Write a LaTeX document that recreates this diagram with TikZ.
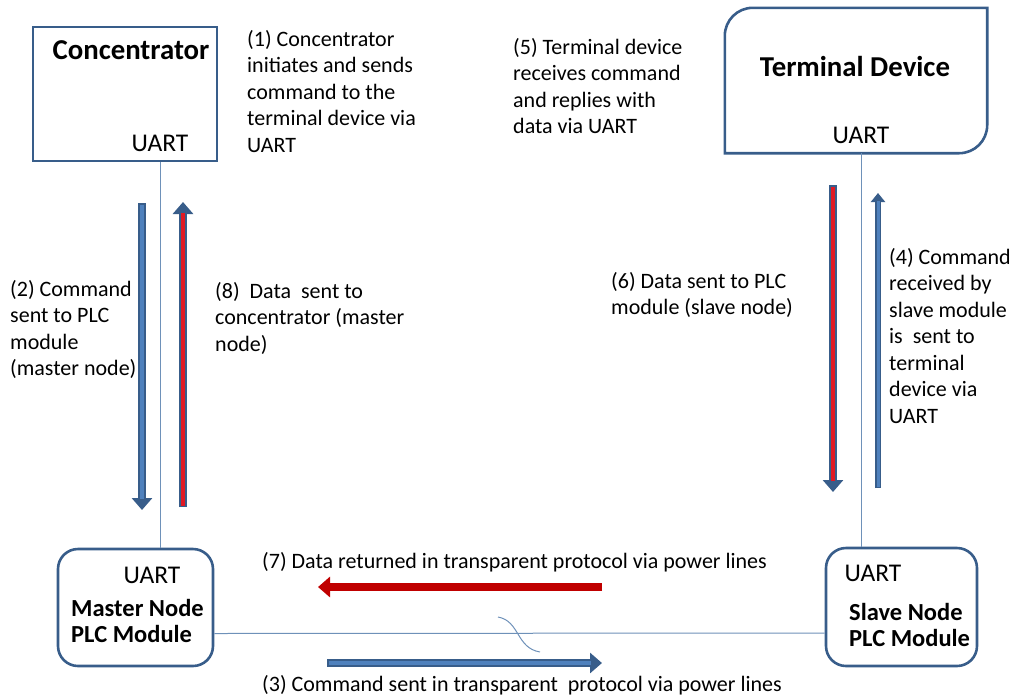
\documentclass[tikz,border=0pt]{standalone}
\usepackage{fontspec}
\setmainfont{Carlito}
\usetikzlibrary{arrows.meta}
\definecolor{edgeblue}{RGB}{56,93,138}
\definecolor{fillblue}{RGB}{79,129,189}
\definecolor{wireblue}{RGB}{110,145,185}
\definecolor{darkred}{RGB}{192,0,0}
\definecolor{brightred}{RGB}{225,25,35}
\tikzset{
	box/.style={draw=edgeblue, line width=2.6pt},
	title/.style={font=\fontsize{28.8}{30}\selectfont\bfseries},
	uart/.style={font=\fontsize{25.5}{28}\selectfont},
	plc/.style={font=\fontsize{24.5}{26.5}\selectfont\bfseries, align=left, anchor=west, inner sep=0pt},
	note/.style={font=\fontsize{22}{26.5}\selectfont, align=left, anchor=north west, inner sep=0pt},
	wire/.style={draw=wireblue, line width=1pt},
	flow/.style 2 args={draw=#1, line width=8pt, -{Triangle[width=20pt,length=12pt]},
		postaction={draw=#2, line width=4pt, -, shorten >=11pt, shorten <=1.5pt}},
	thinflow/.style={draw=edgeblue, line width=6pt, -{Triangle[width=14pt,length=9pt]},
		postaction={draw=fillblue, line width=3pt, -, shorten >=8pt, shorten <=1.5pt}},
}
\begin{document}
\begin{tikzpicture}[x=1pt, y=-1pt]
	\useasboundingbox (0,0) rectangle (1015,697);
	% boxes
	\node[box, minimum width=184pt, minimum height=134pt] (Conc)at(125, 94) {};
	\node[title] (ConcT)at(131, 50) {Concentrator};
	\node[uart] (ConcU)at(160, 143) {UART};
	\node[minimum width=262pt, minimum height=145pt, inner sep=0pt] (Term)at(856, 80.5) {};
	\draw[box] (Term.west) [rounded corners=28pt] -- (Term.north west) [sharp corners] -- (Term.north east) [rounded corners=28pt] -- (Term.south east) [sharp corners] -- (Term.south west) -- cycle;
	\node[title] (TermT)at(855, 66) {Terminal Device};
	\node[uart] (TermU)at(861, 135) {UART};
	\node[box, rounded corners=20pt, minimum width=155pt, minimum height=117pt] (Master)at(135.5, 607.5) {};
	\node[uart] (MasterU)at(152, 575) {UART};
	\node[plc] (MasterT)at(71, 621) {Master Node\\PLC Module};
	\node[box, rounded corners=20pt, minimum width=151pt, minimum height=118pt] (Slave)at(901.5, 607) {};
	\node[uart] (SlaveU)at(873, 573) {UART};
	\node[plc] (SlaveT)at(849, 625) {Slave Node\\PLC Module};
	% wires
	\draw[wire] (Conc.south -| ConcU) -- (Master.north -| ConcU);
	\draw[wire] (Term.south -| TermU) -- (Slave.north -| TermU);
	\draw[wire] ([yshift=-26pt]Master.east) -- ([yshift=-26pt]Slave.west);
	\draw[wire] (498, 617) .. controls (520, 621) and (516, 648) .. (540, 652);
	% arrows
	\coordinate (s2)at(142, 203); \coordinate (e2)at(142, 510);
	\coordinate (s8)at(183, 507); \coordinate (e8)at(183, 202);
	\coordinate (s6)at(833, 185); \coordinate (e6)at(833, 492);
	\coordinate (s4)at(878, 488); \coordinate (e4)at(878, 193);
	\coordinate (s7)at(602, 587); \coordinate (e7)at(318, 587);
	\coordinate (s3)at(327, 663); \coordinate (e3)at(602, 663);
	\draw[flow={edgeblue}{fillblue}] (s2) -- (e2);
	\draw[flow={edgeblue}{brightred}] (s8) -- (e8);
	\draw[flow={edgeblue}{brightred}] (s6) -- (e6);
	\draw[thinflow] (s4) -- (e4);
	\draw[flow={darkred}{darkred}] (s7) -- (e7);
	\draw[flow={edgeblue}{fillblue}] (s3) -- (e3);
	% notes
	\node[note] (n1)at(247, 30) {(1) Concentrator\\initiates and sends\\command to the\\terminal device via\\UART};
	\node[note] (n5)at(513, 38) {(5) Terminal device\\receives command\\and replies with\\data via UART};
	\node[note] (n2)at(10, 280) {(2) Command\\sent to PLC\\module\\(master node)};
	\node[note] (n8)at(215, 282) {(8)\ \ Data\ \ sent to\\concentrator (master\\node)};
	\node[note] (n6)at(611, 272) {(6) Data sent to PLC\\module (slave node)};
	\node[note] (n4)at(889, 248) {(4) Command\\received by\\slave module\\is\ \ sent to\\terminal\\device via\\UART};
	\node[note] (n7)at(262, 552) {(7) Data returned in transparent protocol via power lines};
	\node[note] (n3)at(262, 675) {(3) Command sent in transparent\ \ protocol via power lines};
\end{tikzpicture}
\end{document}
